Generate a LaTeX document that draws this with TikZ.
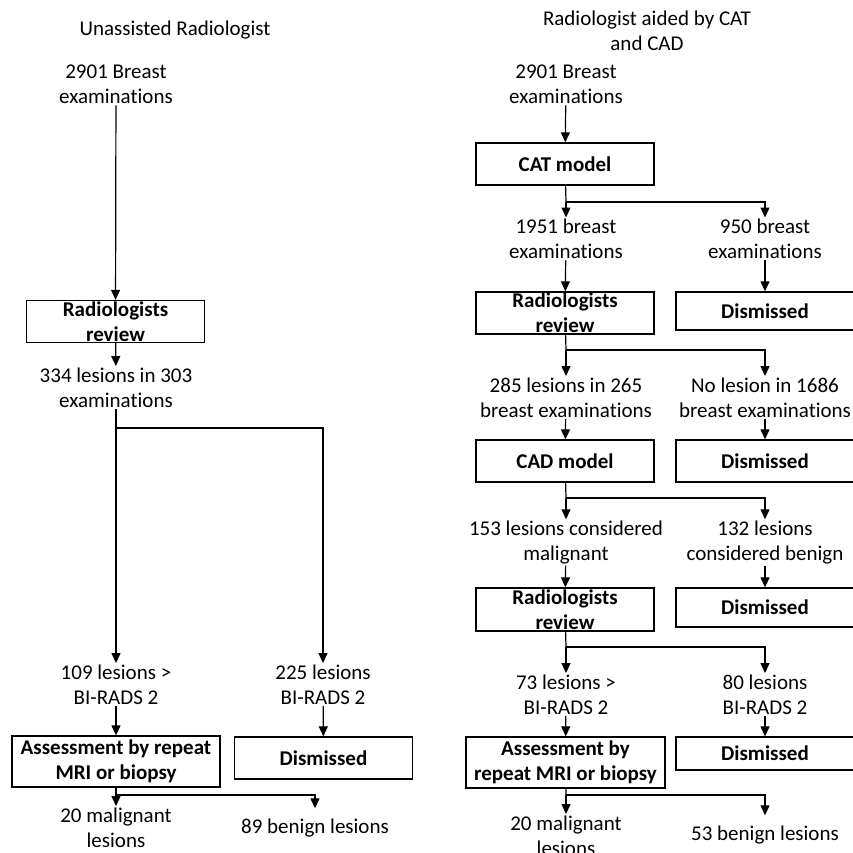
\documentclass[tikz,border=0pt]{standalone}
\usepackage{fontspec}
\setmainfont[Ligatures=NoCommon]{Carlito}
\usetikzlibrary{arrows.meta}
\tikzset{
  every node/.style={font=\fontsize{21}{25}\selectfont},
  txt/.style={align=center, inner sep=1pt},
  box/.style={draw, line width=1.3pt, minimum width=178pt, minimum height=42pt,
    inner xsep=2pt, inner ysep=0pt, align=center,
    font=\fontsize{21}{25}\selectfont\bfseries},
  arr/.style={-{Triangle[length=10pt,width=9pt]}},
}
\begin{document}
\begin{tikzpicture}[x=1pt, y=-1pt, line width=1.2pt]
  \useasboundingbox (0,0) rectangle (853,853);

  % Unassisted radiologist
  \node[txt] (tl) at (175,30) {Unassisted Radiologist};
  \node[txt] (a0) at (116,84.5) {2901 Breast\\examinations};
  \node[box] (rl1) at (115.5,321.5) {Radiologists\\review};
  \node[txt] (a1) at (116,387.5) {334 lesions in 303\\examinations};
  \coordinate (sl1) at (116,428);
  \node[txt] (a2) at (116,684.5) {109 lesions >\\BI-RADS 2};
  \node[txt] (a3) at (323,684.5) {225 lesions\\BI-RADS 2};
  \node[box, minimum width=208pt, minimum height=51pt] (al) at (116,761.5) {Assessment by repeat\\MRI or biopsy};
  \node[box] (dl) at (323.5,758) {Dismissed};
  \coordinate (sl2) at (116,795);
  \node[txt] (a4) at (116,827.5) {20 malignant\\lesions};
  \node[txt, inner ysep=10pt] (a5) at (315,828) {89 benign lesions};

  \draw[arr] (a0) -- (rl1);
  \draw[arr] (rl1) -- (a1);
  \draw (a1) -- (sl1);
  \draw[arr] (sl1) -- (a2);
  \draw[arr] (sl1) -| (a3);
  \draw[arr] (a2) -- (al);
  \draw[arr] (a3) -- (dl);
  \draw (al) -- (sl2);
  \draw[arr] (sl2) -- (a4);
  \draw[arr] (sl2) -| (a5);

  % Radiologist aided by CAT and CAD
  \node[txt] (tr) at (647,30.5) {Radiologist aided by CAT\\and CAD};
  \node[txt] (b0) at (566,84.5) {2901 Breast\\examinations};
  \node[box] (cat) at (565,164) {CAT model};
  \coordinate (sr1) at (566,202);
  \node[txt] (b1) at (566,239) {1951 breast\\examinations};
  \node[txt] (b2) at (765,239) {950 breast\\examinations};
  \node[box] (rr1) at (565,313) {Radiologists\\review};
  \node[box, minimum height=38pt] (dr1) at (765,311) {Dismissed};
  \coordinate (sr2) at (566,350);
  \node[txt] (b3) at (566,397.5) {285 lesions in 265\\breast examinations};
  \node[txt] (b4) at (765,397.5) {No lesion in 1686\\breast examinations};
  \node[box] (cad) at (565,461) {CAD model};
  \node[box] (dr2) at (765,461) {Dismissed};
  \coordinate (sr3) at (566,498);
  \node[txt] (b5) at (566,542.5) {153 lesions considered\\malignant};
  \node[txt] (b6) at (765,542.5) {132 lesions\\considered benign};
  \node[box, minimum height=43pt] (rr2) at (565,609.5) {Radiologists\\review};
  \node[box, minimum height=39pt] (dr3) at (765,607.5) {Dismissed};
  \coordinate (sr4) at (566,647);
  \node[txt] (b7) at (566,694.5) {73 lesions >\\BI-RADS 2};
  \node[txt] (b8) at (765,694.5) {80 lesions\\BI-RADS 2};
  \node[box, minimum width=199pt, minimum height=51pt] (ar) at (565.5,762.5) {Assessment by\\repeat MRI or biopsy};
  \node[box, minimum height=33pt] (dr4) at (765,753.5) {Dismissed};
  \coordinate (sr5) at (566,795);
  \node[txt] (b9) at (566,835.5) {20 malignant\\lesions};
  \node[txt, inner ysep=10pt] (b10) at (765,835) {53 benign lesions};

  \draw[arr] (b0) -- (cat);
  \draw (cat) -- (sr1);
  \draw[arr] (sr1) -- (b1);
  \draw[arr] (sr1) -| (b2);
  \draw[arr] (b1) -- (rr1);
  \draw[arr] (b2) -- (dr1);
  \draw (rr1) -- (sr2);
  \draw[arr] (sr2) -- (b3);
  \draw[arr] (sr2) -| (b4);
  \draw[arr] (b3) -- (cad);
  \draw[arr] (b4) -- (dr2);
  \draw (cad) -- (sr3);
  \draw[arr] (sr3) -- (b5);
  \draw[arr] (sr3) -| (b6);
  \draw[arr] (b5) -- (rr2);
  \draw[arr] (b6) -- (dr3);
  \draw (rr2) -- (sr4);
  \draw[arr] (sr4) -- (b7);
  \draw[arr] (sr4) -| (b8);
  \draw[arr] (b7) -- (ar);
  \draw[arr] (b8) -- (dr4);
  \draw (ar) -- (sr5);
  \draw[arr] (sr5) -- (b9);
  \draw[arr] (sr5) -| (b10);
\end{tikzpicture}
\end{document}
